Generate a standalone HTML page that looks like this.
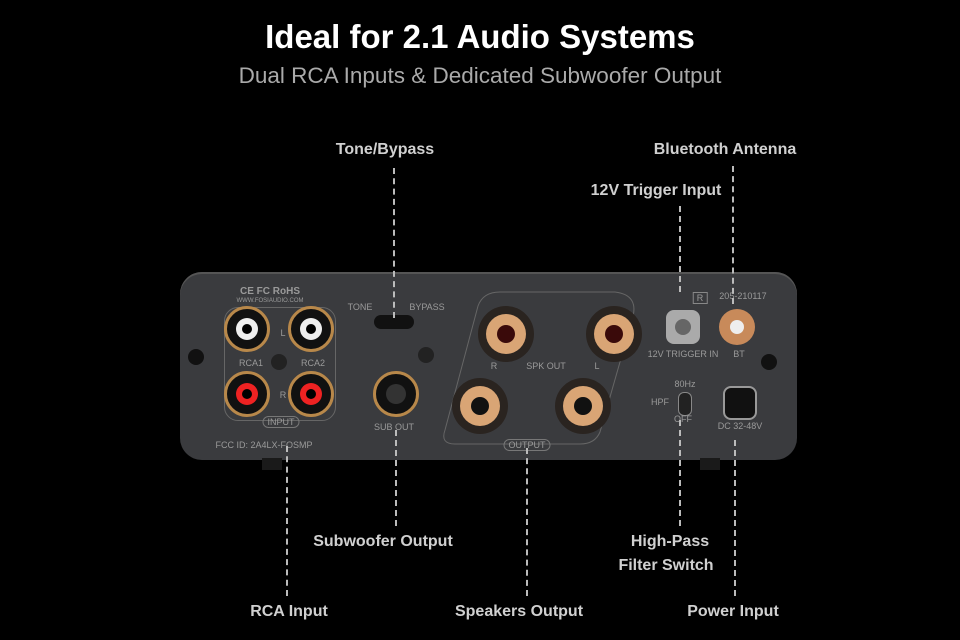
<!DOCTYPE html><html><head><style>
body{margin:0;width:960px;height:640px;background:#000;position:relative;overflow:hidden;font-family:"Liberation Sans",sans-serif}
.a{position:absolute}
.t{color:#d0d0d0;font-size:16px;font-weight:bold;white-space:nowrap;transform:translateX(-50%)}
.d{position:absolute;width:0;border-left:2px dashed #bbb}
.c{position:absolute;border-radius:50%;transform:translate(-50%,-50%)}
.s{color:#9a9a9a;font-size:9px;white-space:nowrap;position:absolute;transform:translateX(-50%)}
</style></head><body>
<div class="a t" style="left:480px;top:18px;color:#fff;font-size:33px;font-weight:bold">Ideal for 2.1 Audio Systems</div>
<div class="a t" style="left:480px;top:63px;color:#aaa;font-size:22.5px;font-weight:normal">Dual RCA Inputs &amp; Dedicated Subwoofer Output</div>
<div class="a" style="left:180px;top:272px;width:617px;height:188px;background:#3a3b3e;border-radius:22px;box-shadow:inset 0 2px 0 #555"></div>
<div class="a" style="left:262px;top:458px;width:20px;height:12px;background:#1a1a1a"></div>
<div class="a" style="left:700px;top:458px;width:20px;height:12px;background:#1a1a1a"></div>
<div class="a" style="left:224px;top:307px;width:110px;height:112px;border:1px solid #666;border-radius:14px"></div>
<svg class="a" style="left:0;top:0" width="960" height="640"><path d="M500 292 L615 292 Q640 295 632 320 L600 432 Q595 444 580 444 L455 444 Q440 444 445 430 L478 306 Q483 292 500 292Z" fill="none" stroke="#666"/></svg>
<div class="c" style="left:247px;top:329px;width:40px;height:40px;background:#111;border:3px solid #b8884a"><div class="c" style="left:20px;top:20px;width:22px;height:22px;background:#eee"></div><div class="c" style="left:20px;top:20px;width:10px;height:10px;background:#000"></div></div>
<div class="c" style="left:311px;top:329px;width:40px;height:40px;background:#111;border:3px solid #b8884a"><div class="c" style="left:20px;top:20px;width:22px;height:22px;background:#eee"></div><div class="c" style="left:20px;top:20px;width:10px;height:10px;background:#000"></div></div>
<div class="c" style="left:247px;top:394px;width:40px;height:40px;background:#111;border:3px solid #b8884a"><div class="c" style="left:20px;top:20px;width:22px;height:22px;background:#e22"></div><div class="c" style="left:20px;top:20px;width:10px;height:10px;background:#000"></div></div>
<div class="c" style="left:311px;top:394px;width:40px;height:40px;background:#111;border:3px solid #b8884a"><div class="c" style="left:20px;top:20px;width:22px;height:22px;background:#e22"></div><div class="c" style="left:20px;top:20px;width:10px;height:10px;background:#000"></div></div>
<div class="c" style="left:396px;top:394px;width:40px;height:40px;background:#111;border:3px solid #b8884a"><div class="c" style="left:20px;top:20px;width:20px;height:20px;background:#333"></div></div>
<div class="c" style="left:506px;top:334px;width:56px;height:56px;background:#2a2420"><div class="c" style="left:28px;top:28px;width:40px;height:40px;background:#d9a575"></div><div class="c" style="left:28px;top:28px;width:18px;height:18px;background:#3a0a0a"></div></div>
<div class="c" style="left:614px;top:334px;width:56px;height:56px;background:#2a2420"><div class="c" style="left:28px;top:28px;width:40px;height:40px;background:#d9a575"></div><div class="c" style="left:28px;top:28px;width:18px;height:18px;background:#3a0a0a"></div></div>
<div class="c" style="left:480px;top:406px;width:56px;height:56px;background:#2a2420"><div class="c" style="left:28px;top:28px;width:40px;height:40px;background:#d9a575"></div><div class="c" style="left:28px;top:28px;width:18px;height:18px;background:#111"></div></div>
<div class="c" style="left:583px;top:406px;width:56px;height:56px;background:#2a2420"><div class="c" style="left:28px;top:28px;width:40px;height:40px;background:#d9a575"></div><div class="c" style="left:28px;top:28px;width:18px;height:18px;background:#111"></div></div>
<div class="c" style="left:683px;top:327px;width:34px;height:34px;background:#aaa;border-radius:8px"><div class="c" style="left:17px;top:17px;width:16px;height:16px;background:#666"></div></div>
<div class="c" style="left:737px;top:327px;width:36px;height:36px;background:#c88a5a"><div class="c" style="left:18px;top:18px;width:14px;height:14px;background:#eee"></div></div>
<div class="c" style="left:740px;top:403px;width:30px;height:30px;background:#111;border:2px solid #999;border-radius:8px"></div>
<div class="a" style="left:374px;top:315px;width:40px;height:14px;background:#111;border-radius:7px"></div>
<div class="c" style="left:685px;top:404px;width:12px;height:22px;background:#222;border:1px solid #888;border-radius:6px"></div>
<div class="c" style="left:196px;top:357px;width:16px;height:16px;background:#111"></div>
<div class="c" style="left:279px;top:362px;width:16px;height:16px;background:#222"></div>
<div class="c" style="left:426px;top:355px;width:16px;height:16px;background:#222"></div>
<div class="c" style="left:769px;top:362px;width:16px;height:16px;background:#111"></div>
<div class="s" style="left:270px;top:286px;font-size:10px;font-weight:bold">CE FC RoHS</div>
<div class="s" style="left:270px;top:298px;font-size:6px">WWW.FOSIAUDIO.COM</div>
<div class="s" style="left:360px;top:302px">TONE</div><div class="s" style="left:427px;top:302px">BYPASS</div>
<div class="s" style="left:251px;top:358px">RCA1</div><div class="s" style="left:313px;top:358px">RCA2</div>
<div class="s" style="left:283px;top:328px">L</div><div class="s" style="left:283px;top:390px">R</div>
<div class="s" style="left:281px;top:416px;border:1px solid #777;border-radius:6px;padding:0 4px">INPUT</div>
<div class="s" style="left:264px;top:440px">FCC ID:  2A4LX-FOSMP</div>
<div class="s" style="left:394px;top:422px">SUB OUT</div>
<div class="s" style="left:494px;top:361px">R</div><div class="s" style="left:546px;top:361px">SPK OUT</div><div class="s" style="left:597px;top:361px">L</div>
<div class="s" style="left:527px;top:439px;border:1px solid #777;border-radius:6px;padding:0 4px">OUTPUT</div>
<div class="s" style="left:683px;top:349px">12V TRIGGER IN</div><div class="s" style="left:739px;top:349px">BT</div>
<div class="s" style="left:743px;top:291px">205-210117</div>
<div class="s" style="left:700px;top:292px;border:1px solid #888;padding:0 3px">R</div>
<div class="s" style="left:685px;top:379px">80Hz</div><div class="s" style="left:660px;top:397px">HPF</div><div class="s" style="left:683px;top:414px">OFF</div>
<div class="s" style="left:740px;top:421px">DC 32-48V</div>
<div class="d" style="left:393px;top:168px;height:150px"></div>
<div class="d" style="left:732px;top:166px;height:138px"></div>
<div class="d" style="left:679px;top:206px;height:86px"></div>
<div class="d" style="left:395px;top:430px;height:96px"></div>
<div class="d" style="left:286px;top:446px;height:150px"></div>
<div class="d" style="left:526px;top:448px;height:148px"></div>
<div class="d" style="left:679px;top:420px;height:106px"></div>
<div class="d" style="left:734px;top:440px;height:156px"></div>
<div class="a t" style="left:385px;top:141px">Tone/Bypass</div>
<div class="a t" style="left:725px;top:141px">Bluetooth Antenna</div>
<div class="a t" style="left:656px;top:182px">12V Trigger Input</div>
<div class="a t" style="left:383px;top:533px">Subwoofer Output</div>
<div class="a t" style="left:670px;top:533px">High-Pass</div>
<div class="a t" style="left:666px;top:557px">Filter Switch</div>
<div class="a t" style="left:289px;top:603px">RCA Input</div>
<div class="a t" style="left:519px;top:603px">Speakers Output</div>
<div class="a t" style="left:733px;top:603px">Power Input</div>
</body></html>
